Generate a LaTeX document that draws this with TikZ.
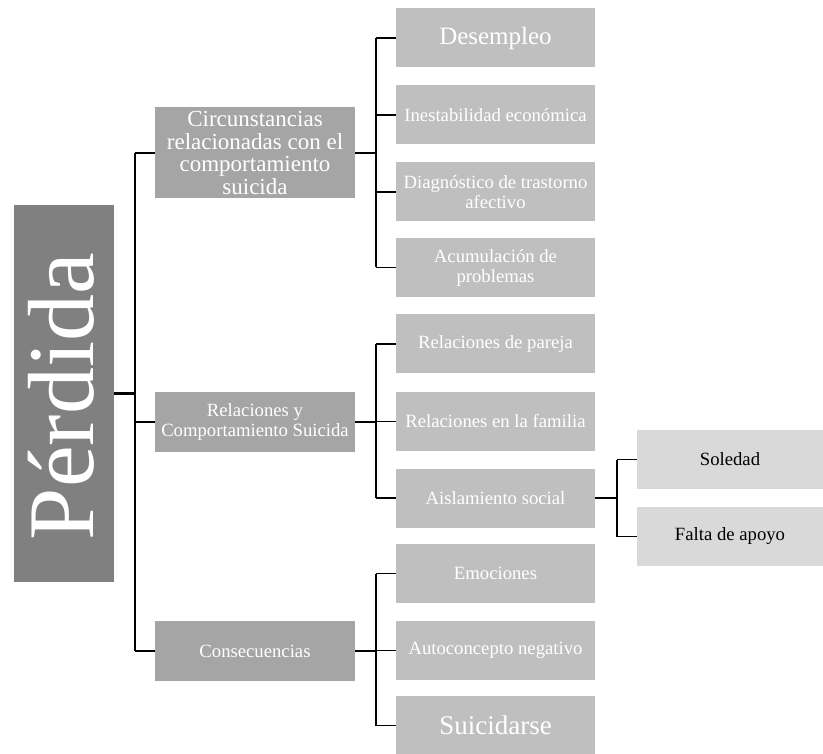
\documentclass[tikz,border=0pt]{standalone}
\usepackage{fontspec}
\setmainfont{Liberation Serif}
\begin{document}
\begin{tikzpicture}[x=1pt,y=1pt,
  box/.style={rectangle, inner sep=2pt, align=center, minimum width=200pt},
  rootbox/.style={box, fill=rootgray, text=white, minimum width=100pt, minimum height=377pt},
  lone/.style={box, fill=midgray, text=white, minimum height=60pt},
  ltwo/.style={box, fill=lightgray2, text=white, minimum height=59pt, minimum width=199pt},
  lthree/.style={box, fill=palegray, text=black, minimum height=59pt, minimum width=186pt},
  stem/.style={line width=2.6pt},
  branch/.style={line width=1.6pt},
  tx/.style={font=\fontsize{18.7}{20}\selectfont}
]
\definecolor{rootgray}{HTML}{808080}
\definecolor{midgray}{HTML}{A5A5A5}
\definecolor{lightgray2}{HTML}{BFBFBF}
\definecolor{palegray}{HTML}{D9D9D9}
\useasboundingbox (0,0) rectangle (823,-754);

% root
\node[rootbox] (root) at (64,-393.5) {};
\node[rotate=90, text=white, inner sep=0pt, font=\fontsize{94}{94}\selectfont] (roottext) at (61,-396.5) {Pérdida};

% level 1
\node[lone, minimum height=91pt, font=\fontsize{23}{22.5}\selectfont] (c1) at (255,-153) {Circunstancias\\relacionadas con el\\comportamiento\\suicida};
\node[lone, tx] (c2) at (255,-422) {Relaciones y\\Comportamiento Suicida};
\node[lone, tx] (c3) at (255,-651) {Consecuencias};

% level 2
\node[ltwo, font=\fontsize{25}{27}\selectfont] (d1) at (495.5,-38) {Desempleo};
\node[ltwo, tx] (d2) at (495.5,-115) {Inestabilidad económica};
\node[ltwo, tx] (d3) at (495.5,-192) {Diagnóstico de trastorno\\afectivo};
\node[ltwo, tx] (d4) at (495.5,-267.5) {Acumulación de\\problemas};
\node[ltwo, tx] (r1) at (495.5,-344) {Relaciones de pareja};
\node[ltwo, tx] (r2) at (495.5,-421.5) {Relaciones en la familia};
\node[ltwo, tx] (r3) at (495.5,-498) {Aislamiento social};
\node[ltwo, tx] (e1) at (495.5,-573.5) {Emociones};
\node[ltwo, tx] (e2) at (495.5,-650.5) {Autoconcepto negativo};
\node[ltwo, font=\fontsize{27}{29}\selectfont] (e3) at (495.5,-725.5) {Suicidarse};

% level 3
\node[lthree, tx] (s1) at (730,-459.5) {Soledad};
\node[lthree, tx] (s2) at (730,-536.5) {Falta de apoyo};

% connectors root
\coordinate (j0) at (135,-393.5);
\draw[stem] (root.east) -- (j0);
\draw[branch] (j0 |- c1.west) -- (j0 |- c3.west);
\draw[branch] (j0 |- c1.west) -- (c1.west);
\draw[branch] (j0 |- c2.west) -- (c2.west);
\draw[branch] (j0 |- c3.west) -- (c3.west);

% c1
\coordinate (j1) at (376,-153);
\draw[stem] (c1.east) -- (j1);
\draw[branch] (j1 |- d1.west) -- (j1 |- d4.west);
\foreach \n in {d1,d2,d3,d4} \draw[branch] (j1 |- \n.west) -- (\n.west);

% c2
\coordinate (j2) at (376,-422);
\draw[stem] (c2.east) -- (j2);
\draw[branch] (j2 |- r1.west) -- (j2 |- r3.west);
\foreach \n in {r1,r2,r3} \draw[branch] (j2 |- \n.west) -- (\n.west);

% c3
\coordinate (j3) at (376,-651);
\draw[stem] (c3.east) -- (j3);
\draw[branch] (j3 |- e1.west) -- (j3 |- e3.west);
\foreach \n in {e1,e2,e3} \draw[branch] (j3 |- \n.west) -- (\n.west);

% r3
\coordinate (j4) at (617,-498);
\draw[stem] (r3.east) -- (j4);
\draw[branch] (j4 |- s1.west) -- (j4 |- s2.west);
\foreach \n in {s1,s2} \draw[branch] (j4 |- \n.west) -- (\n.west);
\end{tikzpicture}
\end{document}
